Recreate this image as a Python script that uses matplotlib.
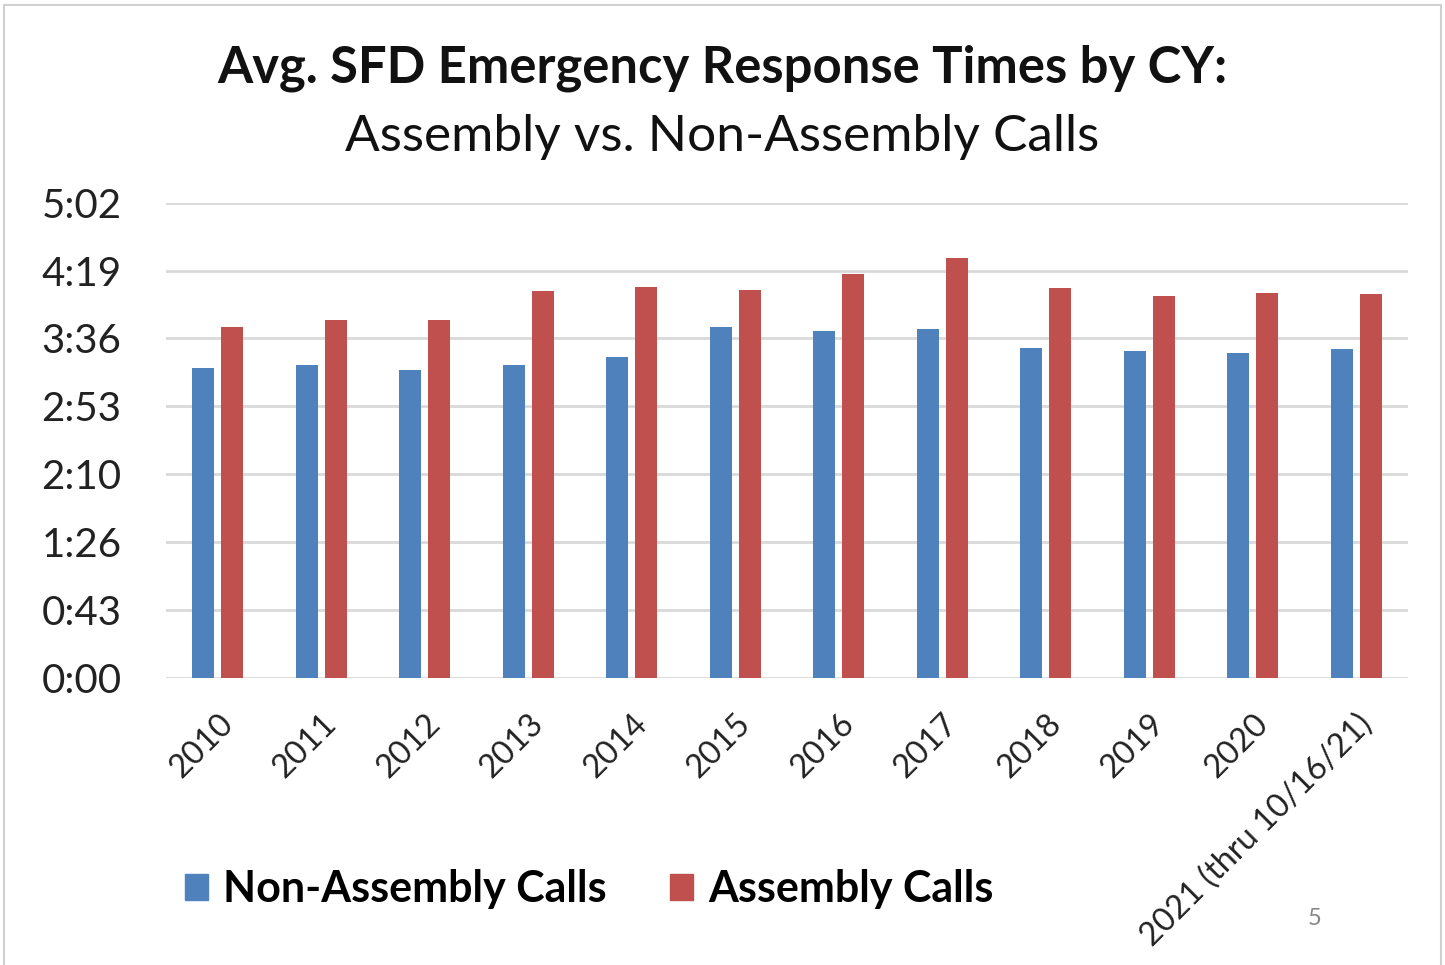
import matplotlib.pyplot as plt
from matplotlib.patches import Patch, Rectangle
from matplotlib.ticker import FixedLocator, FuncFormatter

plt.rcParams['font.family'] = ['Lato', 'DejaVu Sans']

# Average response times in seconds, by calendar year
years = ['2010', '2011', '2012', '2013', '2014', '2015', '2016', '2017',
         '2018', '2019', '2020', '2021 (thru 10/16/21)']
non_assembly = [197, 199, 196, 199, 204, 223, 221, 222, 210, 208, 207, 209]
assembly = [223, 228, 228, 246, 249, 247, 257, 267, 248, 243, 245, 244]

# Axis ticks are every 0.0005 day (43.2 s)
tick_step = 43.2
tick_count = 8

blue = '#4F81BD'
red = '#C0504D'


def mmss(sec, pos=None):
    s = int(round(sec))
    return f'{s // 60}:{s % 60:02d}'


fig = plt.figure(figsize=(14.45, 9.65), dpi=100)
ax = fig.add_axes([0.1149, 0.2974, 0.8595, 0.4926])

x = list(range(len(years)))
w = 0.21
off = 0.14
ax.bar([i - off for i in x], non_assembly, width=w, color=blue, zorder=3)
ax.bar([i + off for i in x], assembly, width=w, color=red, zorder=3)

ax.set_xlim(-0.5, len(years) - 0.5)
ax.set_ylim(0, tick_step * (tick_count - 1))
ax.yaxis.set_major_locator(FixedLocator([tick_step * k for k in range(tick_count)]))
ax.yaxis.set_major_formatter(FuncFormatter(mmss))
ax.grid(axis='y', color='#d9d9d9', linewidth=2, zorder=0)
ax.set_axisbelow(True)
for sp in ax.spines.values():
    sp.set_visible(False)
ax.tick_params(axis='y', length=0, pad=32, labelsize=29, labelcolor='#222222')
ax.tick_params(axis='x', length=0, pad=22, labelsize=23.5, labelcolor='#222222')
ax.set_xticks(x)
ax.set_xticklabels(years, rotation=45, ha='right', rotation_mode='anchor')

fig.text(0.5, 0.929, 'Avg. SFD Emergency Response Times by CY:', ha='center',
         va='center', fontsize=36.5, fontweight='bold', color='#111111')
fig.text(0.5, 0.858, 'Assembly vs. Non-Assembly Calls', ha='center',
         va='center', fontsize=37, color='#111111')

handles = [Patch(color=blue, label='Non-Assembly Calls'),
           Patch(color=red, label='Assembly Calls')]
fig.legend(handles=handles, loc='center left', bbox_to_anchor=(0.101, 0.079),
           ncol=2, frameon=False, handlelength=0.55, handleheight=0.55,
           handletextpad=0.35, columnspacing=1.45,
           prop={'weight': 'bold', 'size': 31})

fig.text(0.91, 0.048, '5', ha='center', va='center', fontsize=17, color='#888888')

# light frame around the chart area
fig.patches.append(Rectangle((0.003, -0.05), 0.994, 1.045, transform=fig.transFigure,
                             fill=False, edgecolor='#d0d0d0', linewidth=1.5))

fig.savefig('out.png', dpi=100, facecolor='white')
